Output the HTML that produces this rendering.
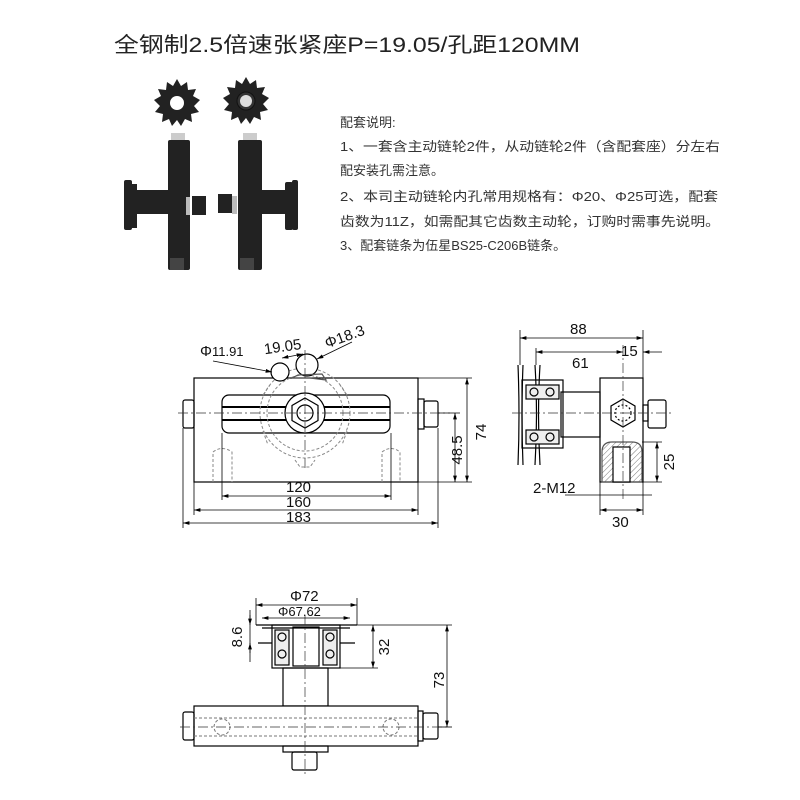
<!DOCTYPE html>
<html><head><meta charset="utf-8"><style>
body{margin:0;background:#fff;}
svg{display:block}
.t{font-family:"Liberation Sans","Noto Sans CJK SC",sans-serif;}
</style></head><body>
<svg width="800" height="800" viewBox="0 0 800 800" xmlns="http://www.w3.org/2000/svg">
<defs>
<marker id="a" viewBox="0 0 10 6" refX="10" refY="3" markerWidth="8" markerHeight="5" orient="auto-start-reverse"><path d="M0,0L10,3L0,6z" fill="#000"/></marker>
<pattern id="h" width="4" height="4" patternUnits="userSpaceOnUse" patternTransform="rotate(45)"><line x1="0" y1="0" x2="0" y2="4" stroke="#777" stroke-width="1"/></pattern>
<g id="sp"><path d="M0,-24 L4,-17 L10,-21 L11,-13 L19,-14 L16,-7 L23,-3 L17,3 L22,9 L14,11 L15,19 L8,16 L4,23 L0,17 L-5,23 L-8,16 L-15,19 L-14,11 L-22,9 L-17,3 L-23,-3 L-16,-7 L-19,-14 L-11,-13 L-10,-21 L-4,-17 Z" fill="#222"/></g>
</defs>
<rect width="800" height="800" fill="#fff"/>
<text class="t" x="114" y="52" font-size="21" fill="#222" textLength="466" lengthAdjust="spacingAndGlyphs">全钢制2.5倍速张紧座P=19.05/孔距120MM</text>

<!-- photo -->
<g fill="#222">
<use href="#sp" x="177" y="103"/><use href="#sp" x="246" y="101"/>
<circle cx="177" cy="103" r="7" fill="#fff"/><circle cx="246" cy="101" r="9" fill="#333" stroke="#111"/><circle cx="246" cy="101" r="6" fill="#ddd"/>
<rect x="171" y="133" width="14" height="8" fill="#ccc"/><rect x="243" y="133" width="14" height="8" fill="#ccc"/>
<rect x="168" y="140" width="22" height="130" rx="2"/>
<rect x="238" y="140" width="24" height="130" rx="2"/>
<rect x="124" y="180" width="8" height="50" rx="2"/><rect x="131" y="184" width="6" height="44"/>
<rect x="135" y="190" width="33" height="24"/>
<rect x="186" y="197" width="4" height="18" fill="#bbb"/>
<rect x="192" y="196" width="14" height="19"/>
<rect x="218" y="194" width="14" height="19"/>
<rect x="232" y="196" width="5" height="18" fill="#bbb"/>
<rect x="262" y="190" width="26" height="24"/>
<rect x="285" y="182" width="8" height="48" rx="2"/><rect x="292" y="180" width="6" height="50" rx="2"/>
<rect x="170" y="258" width="14" height="12" fill="#444"/><rect x="240" y="258" width="14" height="12" fill="#444"/>
</g>

<g class="t" font-size="13" fill="#333">
<text x="340" y="127">配套说明:</text>
<text x="340" y="151" textLength="380" lengthAdjust="spacingAndGlyphs">1、一套含主动链轮2件，从动链轮2件（含配套座）分左右</text>
<text x="340" y="175">配安装孔需注意。</text>
<text x="340" y="201" textLength="378" lengthAdjust="spacingAndGlyphs">2、本司主动链轮内孔常用规格有：Φ20、Φ25可选，配套</text>
<text x="340" y="226" textLength="380" lengthAdjust="spacingAndGlyphs">齿数为11Z，如需配其它齿数主动轮，订购时需事先说明。</text>
<text x="340" y="250">3、配套链条为伍星BS25-C206B链条。</text>
</g>

<!-- front view -->
<g stroke="#000" stroke-width="1.2" fill="none">
<rect x="194" y="378" width="224" height="104" fill="#fff"/>
<rect x="222" y="395" width="168" height="38" rx="7"/>
<line x1="222" y1="407" x2="390" y2="407" stroke-width="2"/>
<line x1="222" y1="420" x2="390" y2="420" stroke-width="2"/>
<rect x="183" y="400" width="11" height="28" rx="2"/>
<rect x="418" y="399" width="6" height="30"/><rect x="424" y="401" width="14" height="26" rx="2"/>
<g stroke="#888" stroke-dasharray="3 2" stroke-width="1">
<circle cx="305" cy="413" r="45"/><circle cx="305" cy="413" r="38"/>
<path d="M263,395 L270,385 M347,395 L340,385 M295,460 L300,467 L310,467 L315,460 M263,431 L268,445 M347,431 L342,445"/>
<path d="M213,482 V452 Q222,445 232,452 V482 M382,482 V452 Q391,445 400,452 V482"/>
</g>
<circle cx="305" cy="413" r="20" fill="#fff"/>
<polygon points="305,398 318,405.5 318,420.5 305,428 292,420.5 292,405.5"/>
<circle cx="305" cy="413" r="8"/>
<circle cx="280" cy="372" r="9" fill="#fff"/><circle cx="307" cy="365" r="11" fill="#fff"/>
<path d="M292,378 L298,375 L322,374 L326,380 L310,378 Z" stroke="#555"/>
<g stroke="#333" stroke-dasharray="10 3 2 3" stroke-width=".7">
<line x1="178" y1="413" x2="450" y2="413"/><line x1="305" y1="350" x2="305" y2="470"/>
</g>
<g stroke-width=".8">
<line x1="222" y1="433" x2="222" y2="500"/><line x1="391" y1="433" x2="391" y2="500"/>
<line x1="194" y1="482" x2="194" y2="515"/><line x1="418" y1="482" x2="418" y2="515"/>
<line x1="183" y1="428" x2="183" y2="528"/><line x1="438" y1="428" x2="438" y2="528"/>
<line x1="222" y1="496" x2="391" y2="496" marker-start="url(#a)" marker-end="url(#a)"/>
<line x1="194" y1="510" x2="418" y2="510" marker-start="url(#a)" marker-end="url(#a)"/>
<line x1="183" y1="523" x2="438" y2="523" marker-start="url(#a)" marker-end="url(#a)"/>
<line x1="418" y1="378" x2="472" y2="378"/><line x1="418" y1="482" x2="472" y2="482"/>
<line x1="438" y1="413" x2="460" y2="413"/>
<line x1="467" y1="378" x2="467" y2="482" marker-start="url(#a)" marker-end="url(#a)"/>
<line x1="455" y1="413" x2="455" y2="482" marker-start="url(#a)" marker-end="url(#a)"/>
<line x1="213" y1="361" x2="272" y2="372" marker-end="url(#a)"/>
<line x1="282" y1="358" x2="303" y2="354" marker-start="url(#a)" marker-end="url(#a)"/>
<line x1="352" y1="342" x2="317" y2="359" marker-end="url(#a)"/>
</g>
</g>
<g class="t" font-size="15" fill="#111">
<text x="286" y="492">120</text><text x="286" y="507">160</text><text x="286" y="522">183</text>
<text transform="translate(462,450) rotate(-90)" text-anchor="middle">48.5</text>
<text transform="translate(486,432) rotate(-90)" text-anchor="middle">74</text>
<text x="200" y="356">Φ<tspan font-size="13">11.91</tspan></text>
<text x="264" y="352" transform="rotate(-8 280 348)">19.05</text>
<text x="324" y="345" transform="rotate(-20 335 338)">Φ18.3</text>
</g>

<!-- side view -->
<g stroke="#000" stroke-width="1.2" fill="none">
<rect x="600" y="378" width="43" height="104" fill="#fff"/>
<rect x="561" y="392" width="39" height="45"/>
<path d="M518,365 Q520,415 518,465 M523,365 Q521,415 523,465 M535,365 Q538,415 535,465 M540,365 Q537,415 540,465"/>
<rect x="522" y="380" width="41" height="68"/>
<rect x="526" y="385" width="33" height="14" fill="#eee"/><rect x="526" y="430" width="33" height="14" fill="#eee"/>
<circle cx="534" cy="392" r="4"/><circle cx="550" cy="392" r="4"/><circle cx="534" cy="437" r="4"/><circle cx="550" cy="437" r="4"/>
<polygon points="623,399 635,406 635,420 623,427 611,420 611,406"/>
<circle cx="623" cy="413" r="8" stroke-dasharray="2 2"/>
<rect x="643" y="405" width="5" height="16"/><rect x="648" y="400" width="18" height="28" rx="2"/>
<path d="M602,482 V452 Q602,442 612,442 H632 Q642,442 642,452 V482 Z" fill="url(#h)" stroke="#555"/>
<rect x="613" y="447" width="17" height="35" fill="#fff"/>
<g stroke="#333" stroke-dasharray="10 3 2 3" stroke-width=".7"><line x1="512" y1="413" x2="672" y2="413"/><line x1="623" y1="345" x2="623" y2="500"/></g>
<g stroke-width=".8">
<line x1="520" y1="365" x2="520" y2="330"/><line x1="643" y1="378" x2="643" y2="330"/>
<line x1="536" y1="365" x2="536" y2="348"/>
<line x1="520" y1="338" x2="643" y2="338" marker-start="url(#a)" marker-end="url(#a)"/>
<line x1="536" y1="352" x2="623" y2="352" marker-start="url(#a)" marker-end="url(#a)"/>
<line x1="643" y1="352" x2="662" y2="352" marker-start="url(#a)"/>
<line x1="642" y1="442" x2="662" y2="442"/><line x1="642" y1="482" x2="662" y2="482"/>
<line x1="657" y1="442" x2="657" y2="482" marker-start="url(#a)" marker-end="url(#a)"/>
<line x1="600" y1="482" x2="600" y2="515"/><line x1="643" y1="482" x2="643" y2="515"/>
<line x1="600" y1="510" x2="643" y2="510" marker-start="url(#a)" marker-end="url(#a)"/>
<line x1="565" y1="495" x2="652" y2="495"/>
</g>
</g>
<g class="t" font-size="15" fill="#111">
<text x="570" y="334">88</text><text x="572" y="368">61</text><text x="621" y="356">15</text>
<text transform="translate(674,462) rotate(-90)" text-anchor="middle">25</text>
<text x="533" y="493">2-M12</text><text x="612" y="527">30</text>
</g>

<!-- bottom view -->
<g stroke="#000" stroke-width="1.2" fill="none">
<rect x="283" y="668" width="45" height="38" fill="#fff"/>
<rect x="194" y="706" width="224" height="40" fill="#fff"/>
<rect x="183" y="712" width="11" height="28" rx="2"/>
<rect x="418" y="711" width="5" height="30"/><rect x="423" y="713" width="15" height="26" rx="2"/>
<rect x="283" y="746" width="45" height="6"/><rect x="292" y="752" width="25" height="18" rx="2"/>
<path d="M256,625 H357 M262,628 H350 M258,643 H272 M340,643 H355"/>
<rect x="272" y="625" width="68" height="43"/>
<rect x="275" y="630" width="14" height="35" fill="#eee"/><rect x="323" y="630" width="14" height="35" fill="#eee"/>
<circle cx="282" cy="637" r="4"/><circle cx="282" cy="654" r="4"/><circle cx="330" cy="637" r="4"/><circle cx="330" cy="654" r="4"/>
<rect x="293" y="627" width="26" height="39"/>
<g stroke="#777" stroke-dasharray="3 2" stroke-width="1"><line x1="194" y1="718" x2="418" y2="718"/><line x1="194" y1="736" x2="418" y2="736"/>
<circle cx="222" cy="727" r="8"/><circle cx="391" cy="727" r="8"/></g>
<g stroke="#333" stroke-dasharray="10 3 2 3" stroke-width=".7"><line x1="180" y1="727" x2="450" y2="727"/><line x1="305" y1="615" x2="305" y2="775"/></g>
<g stroke-width=".8">
<line x1="256" y1="625" x2="256" y2="598"/><line x1="357" y1="625" x2="357" y2="598"/>
<line x1="256" y1="605" x2="357" y2="605" marker-start="url(#a)" marker-end="url(#a)"/>
<line x1="262" y1="618" x2="350" y2="618" marker-start="url(#a)" marker-end="url(#a)"/>
<line x1="250" y1="610" x2="250" y2="662"/>
<line x1="250" y1="615" x2="250" y2="625" marker-end="url(#a)"/><line x1="250" y1="653" x2="250" y2="643" marker-end="url(#a)"/>
<line x1="357" y1="625" x2="452" y2="625"/><line x1="340" y1="668" x2="378" y2="668"/><line x1="438" y1="727" x2="452" y2="727"/>
<line x1="373" y1="625" x2="373" y2="668" marker-start="url(#a)" marker-end="url(#a)"/>
<line x1="447" y1="625" x2="447" y2="727" marker-start="url(#a)" marker-end="url(#a)"/>
</g>
</g>
<g class="t" font-size="15" fill="#111">
<text x="290" y="601">Φ72</text><text x="278" y="616" font-size="13">Φ67.62</text>
<text transform="translate(242,637) rotate(-90)" text-anchor="middle">8.6</text>
<text transform="translate(389,647) rotate(-90)" text-anchor="middle">32</text>
<text transform="translate(444,680) rotate(-90)" text-anchor="middle">73</text>
</g>
</svg>
</body></html>
